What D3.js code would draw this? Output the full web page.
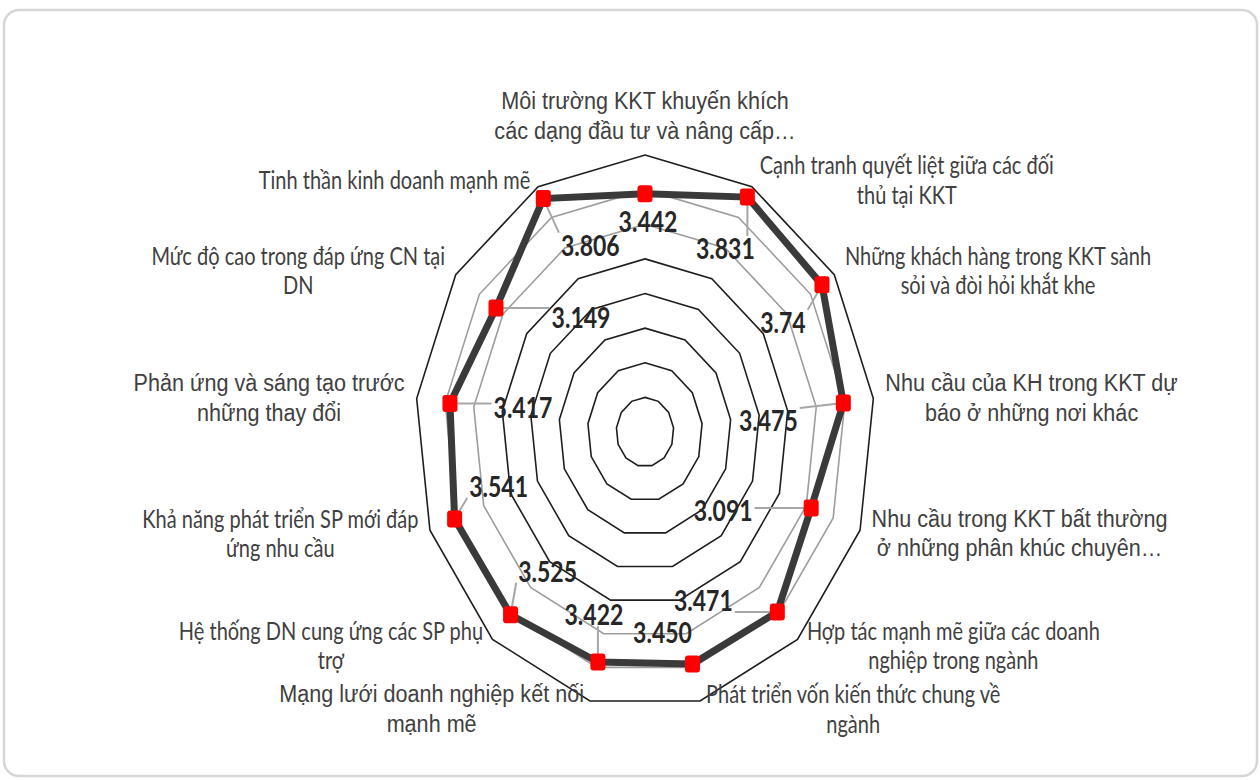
<!DOCTYPE html>
<html>
<head>
<meta charset="utf-8">
<script src="https://cdn.jsdelivr.net/npm/d3@7"></script>
<style>
  html, body { margin: 0; padding: 0; background: #fff; }
  svg { display: block; }
</style>
</head>
<body>
<svg id="chart" width="1260" height="780"></svg>
<script>
// Axis names (one entry per spoke, split into display lines)
const categories = [
  ["Môi trường KKT khuyến khích", "các dạng đầu tư và nâng cấp…"],
  ["Cạnh tranh quyết liệt giữa các đối", "thủ tại KKT"],
  ["Những khách hàng trong KKT sành", "sỏi và đòi hỏi khắt khe"],
  ["Nhu cầu của KH trong KKT dự", "báo ở những nơi khác"],
  ["Nhu cầu trong KKT bất thường", "ở những phân khúc chuyên…"],
  ["Hợp tác mạnh mẽ giữa các doanh", "nghiệp trong ngành"],
  ["Phát triển vốn kiến thức chung về", "ngành"],
  ["Mạng lưới doanh nghiệp kết nối", "mạnh mẽ"],
  ["Hệ thống DN cung ứng các SP phụ", "trợ"],
  ["Khả năng phát triển SP mới đáp", "ứng nhu cầu"],
  ["Phản ứng và sáng tạo trước", "những thay đổi"],
  ["Mức độ cao trong đáp ứng CN tại", "DN"],
  ["Tinh thần kinh doanh mạnh mẽ"]
];

// Mean scores as printed on the chart
const valueLabels = ["3.442", "3.831", "3.74", "3.475", "3.091", "3.471", "3.450",
                     "3.422", "3.525", "3.541", "3.417", "3.149", "3.806"];
const values = valueLabels.map(Number);

// Radial gridline levels
const gridLevels = [0.5, 1, 1.5, 2, 2.5, 3, 3.5, 4];

// Data-label nudges relative to each marker (dx, dy)
const labelNudges = [[3, 27], [-22, 51], [-39, 37], [-75, 17], [-88, 2], [-74, -12], [-30, -32],
                     [-4, -48], [37, -44], [44, -33], [73, 4], [85, 9], [47, 46]];

// Axis labels set in the wider sans face
const wideFaceAxes = [0, 3, 4, 7, 10];

const cx = 645, cy = 432;
const vStretch = 1.22;           // vertical stretch of the whole plot and its text
const wideStretch = 1.08;        // horizontal stretch for the wide-face labels

const svg = d3.select("#chart");

// Card background
svg.append("rect")
  .attr("x", 4).attr("y", 10).attr("width", 1253).attr("height", 766)
  .attr("rx", 15).attr("ry", 15)
  .attr("fill", "#fff").attr("stroke", "#d6d6d6").attr("stroke-width", 2.5);

const n = categories.length;
const angle = d3.scaleLinear().domain([0, n]).range([0, 2 * Math.PI]);
const rx = d3.scaleLinear().domain([0, 4]).range([0, 230]);
const ry = d3.scaleLinear().domain([0, 4]).range([0, 277]);

const pt = (i, v) => {
  const a = angle(i);
  return [cx + rx(v) * Math.sin(a), cy - ry(v) * Math.cos(a)];
};

const polyLine = d3.line().curve(d3.curveLinearClosed);

// Grid rings
const g = svg.append("g");
g.selectAll("path.ring")
  .data(gridLevels)
  .join("path")
  .attr("class", "ring")
  .attr("d", lv => polyLine(d3.range(n).map(i => pt(i, lv))))
  .attr("fill", "none")
  .attr("stroke", lv => (lv === 3 || lv === 3.5) ? "#9d9d9d" : "#1e1e1e")
  .attr("stroke-width", 1.6);

// Category labels
const catG = svg.append("g")
  .attr("font-size", 20)
  .attr("fill", "#404040");

const lineH = 24.2 * vStretch;
categories.forEach((lines, i) => {
  const a = angle(i);
  const s = Math.sin(a), c = Math.cos(a);
  const [vx, vy] = pt(i, 4);
  const wide = wideFaceAxes.includes(i);
  const hs = wide ? wideStretch : 1;
  const grp = catG.append("g")
    .attr("font-family", wide
      ? "'Liberation Sans', Arial, sans-serif"
      : "Lato, 'Open Sans', sans-serif");
  const texts = lines.map(t => grp.append("text")
    .attr("text-anchor", "middle")
    .attr("dominant-baseline", "central")
    .text(t));
  const w = d3.max(texts, t => t.node().getComputedTextLength()) * hs;
  const h = lines.length * lineH;
  let bx, by;
  if (Math.abs(s) < 0.05) {
    bx = vx; by = vy - 10 - h / 2;
  } else {
    const pad = 4 + 8 * Math.abs(s);
    bx = s > 0 ? vx + pad + w / 2 : vx - pad - w / 2;
    by = vy - c * 8;
  }
  texts.forEach((t, k) => {
    const ly = by - h / 2 + lineH * (k + 0.5);
    t.attr("transform", `translate(${bx},${ly}) scale(${hs},${vStretch})`);
  });
});

// Data label geometry
const labelPos = values.map((v, i) => {
  const [x, y] = pt(i, v);
  return [x + labelNudges[i][0], y + labelNudges[i][1]];
});

const lblG = svg.append("g")
  .attr("font-family", "Lato, 'Open Sans', sans-serif")
  .attr("font-weight", "bold")
  .attr("font-size", 23)
  .attr("fill", "#262626");

const lblTexts = valueLabels.map((t, i) => lblG.append("text")
  .attr("text-anchor", "middle")
  .attr("dominant-baseline", "central")
  .attr("transform", `translate(${labelPos[i][0]},${labelPos[i][1]}) scale(1,${vStretch})`)
  .text(t));

// Leader lines from each marker to the nearest edge of its label
const leaderG = svg.insert("g", () => lblG.node());
values.forEach((v, i) => {
  const [mx, my] = pt(i, v);
  const w = lblTexts[i].node().getComputedTextLength();
  const hw = w / 2 + 2, hh = 12;
  const [lx, ly] = labelPos[i];
  const ex = Math.max(lx - hw, Math.min(mx, lx + hw));
  const ey = Math.max(ly - hh, Math.min(my, ly + hh));
  if (Math.hypot(ex - mx, ey - my) < 22) return;
  leaderG.append("line")
    .attr("x1", mx).attr("y1", my).attr("x2", ex).attr("y2", ey)
    .attr("stroke", "#a6a6a6").attr("stroke-width", 2);
});

// Series line
const dataG = svg.insert("g", () => lblG.node());
dataG.append("path")
  .attr("d", polyLine(values.map((v, i) => pt(i, v))))
  .attr("fill", "none")
  .attr("stroke", "#3a3a3a")
  .attr("stroke-width", 7)
  .attr("stroke-linejoin", "miter");

// Markers
dataG.selectAll("rect.marker")
  .data(values)
  .join("rect")
  .attr("class", "marker")
  .attr("x", (v, i) => pt(i, v)[0] - 7.5)
  .attr("y", (v, i) => pt(i, v)[1] - 8.5)
  .attr("width", 15).attr("height", 17)
  .attr("rx", 3).attr("ry", 3)
  .attr("fill", "#ff0000");
</script>
</body>
</html>
